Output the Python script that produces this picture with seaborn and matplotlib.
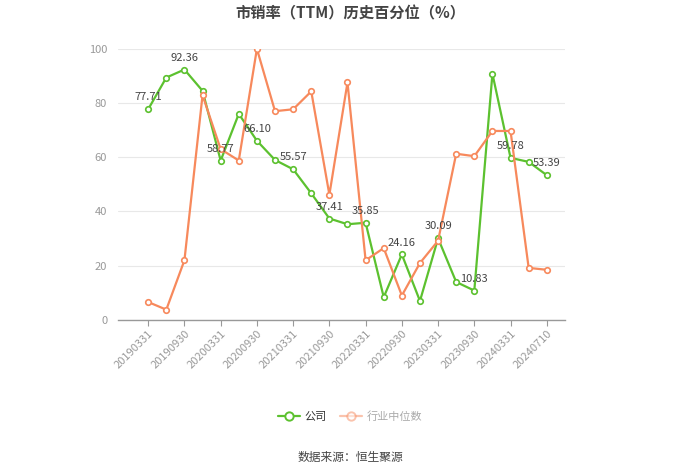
import numpy as np
import pandas as pd
import seaborn as sns
import matplotlib.pyplot as plt
from matplotlib.lines import Line2D

dates = ["20190331", "20190630", "20190930", "20191231", "20200331", "20200630",
         "20200930", "20201231", "20210331", "20210630", "20210930", "20211231",
         "20220331", "20220630", "20220930", "20221231", "20230331", "20230630",
         "20230930", "20231231", "20240331", "20240630", "20240710"]
company = [77.71, 89.4, 92.36, 84.5, 58.77, 76.0, 66.10, 59.0, 55.57, 46.7, 37.41, 35.3,
           35.85, 8.4, 24.16, 7.0, 30.09, 14.0, 10.83, 90.8, 59.78, 58.3, 53.39]
industry = [6.6, 3.8, 22.0, 82.9, 63.0, 58.8, 100.0, 77.0, 77.7, 84.3, 46.2, 87.6,
            22.0, 26.5, 9.0, 21.0, 29.2, 61.3, 60.4, 69.7, 69.7, 19.2, 18.5]
series_names = ["公司", "行业中位数"]

green = "#5cc12f"
orange = "#f7895c"

df = pd.DataFrame({
    "idx": list(range(len(dates))) * 2,
    "value": company + industry,
    "series": [series_names[0]] * len(dates) + [series_names[1]] * len(dates),
})

sns.set_style("white")
plt.rcParams['font.family'] = ['Noto Sans CJK SC', 'DejaVu Sans']

fig = plt.figure(figsize=(7, 4.74), dpi=100)
ax = fig.add_axes([0.169, 0.325, 0.638, 0.572])

sns.lineplot(data=df, x="idx", y="value", hue="series",
             palette={series_names[0]: green, series_names[1]: orange},
             hue_order=series_names, lw=1.6, marker="o", markersize=4,
             markerfacecolor="white", markeredgewidth=1.2, legend=False, ax=ax)
# marker edges follow line colours
for line in ax.lines:
    line.set_markeredgecolor(line.get_color())

for i in range(0, len(dates), 2):
    ax.annotate(f"{company[i]:.2f}", (i, company[i]), xytext=(0, 5),
                textcoords="offset points", ha="center", va="bottom",
                fontsize=8, color="#444444")

ax.set_xlim(-1.65, 23.0)
ax.set_ylim(0, 100)
ax.set_yticks([0, 20, 40, 60, 80, 100])
ax.set_xticks(range(0, len(dates), 2))
ax.set_xticklabels([dates[i] for i in range(0, len(dates), 2)], rotation=45,
                   ha="right", rotation_mode="anchor", fontsize=8, color="#999999")
ax.tick_params(axis="y", labelsize=8, labelcolor="#999999", length=0, pad=8)
ax.tick_params(axis="x", length=4, color="#999999", bottom=True, pad=2)
ax.set_xlabel("")
ax.set_ylabel("")
ax.grid(axis="y", color="#e8e8e8", lw=0.8)
ax.grid(axis="x", visible=False)
for s in ["top", "right", "left"]:
    ax.spines[s].set_visible(False)
ax.spines["bottom"].set_color("#999999")
ax.spines["bottom"].set_linewidth(1.0)

fig.text(0.5, 0.972, "市销率（TTM）历史百分位（%）", ha="center", va="center",
         fontsize=11, fontweight="bold", color="#444444")

handles = [
    Line2D([], [], color=green, lw=1.6, marker="o", markersize=6,
           markerfacecolor="white", markeredgecolor=green, markeredgewidth=1.4),
    Line2D([], [], color=orange, lw=1.6, marker="o", markersize=6, alpha=0.5,
           markerfacecolor="white", markeredgecolor=orange, markeredgewidth=1.4),
]
leg = fig.legend(handles, series_names, loc="center", bbox_to_anchor=(0.5, 0.122),
                 ncol=2, frameon=False, fontsize=8, handlelength=2.0,
                 columnspacing=1.2, handletextpad=0.4)
leg.get_texts()[0].set_color("#333333")
leg.get_texts()[1].set_color("#aaaaaa")

fig.text(0.5, 0.035, "数据来源：恒生聚源", ha="center", va="center",
         fontsize=8.5, color="#444444")

fig.savefig("out.png", dpi=100, facecolor="white")
